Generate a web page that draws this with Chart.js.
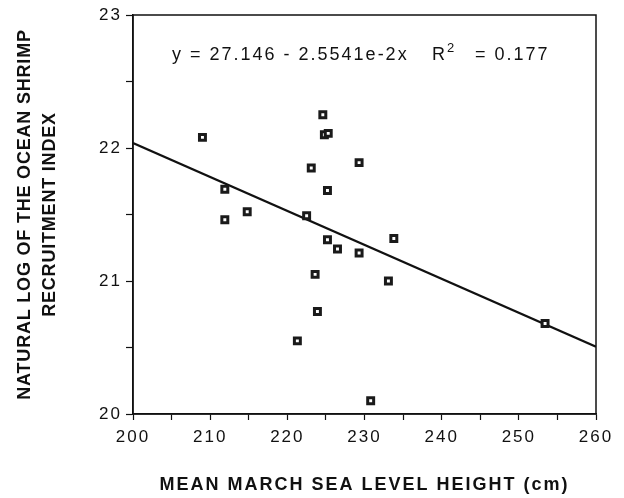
<!DOCTYPE html>
<html>
<head>
<meta charset="utf-8">
<script src="https://cdn.jsdelivr.net/npm/chart.js@4/dist/chart.umd.min.js"></script>
<style>
  body { margin: 0; background: #fff; }
</style>
</head>
<body>
<canvas id="myChart" width="624" height="498"></canvas>
<script>
let seaLevel = [209.0, 211.9, 211.9, 214.8, 221.3, 222.5, 223.1, 223.6, 223.9, 224.6, 224.8, 225.3, 225.2, 225.2, 226.5, 229.3, 229.3, 230.8, 233.1, 233.8, 253.4];
let recruitment = [22.08, 21.69, 21.46, 21.52, 20.55, 21.49, 21.85, 21.05, 20.77, 22.25, 22.10, 22.11, 21.68, 21.31, 21.24, 21.89, 21.21, 20.10, 21.00, 21.32, 20.68];
let fitIntercept = 27.146;
let fitSlope = -2.5541e-2;
let fitRange = [200, 260];
let xTicks = [200, 210, 220, 230, 240, 250, 260];
let yTicks = [20, 21, 22, 23];

let font = "'Liberation Sans', Arial, Helvetica, sans-serif";
let ink = '#111';

let points = seaLevel.map((x, i) => ({ x: x, y: recruitment[i] }));
let fitLine = fitRange.map(x => ({ x: x, y: fitIntercept + fitSlope * x }));

// the scanned plot has wide letter spacing, a bit tighter on the y title
const spacing = {
  id: 'spacing',
  beforeUpdate(chart) { chart.ctx.letterSpacing = '2px'; },
  beforeDraw(chart) { chart.ctx.letterSpacing = '2px'; },
  afterLayout(chart) {
    let s = chart.scales.y;
    if (s._tightTitle) return;
    let orig = s.drawTitle.bind(s);
    s.drawTitle = function () {
      let c = this.ctx;
      let prev = c.letterSpacing;
      c.letterSpacing = '0.8px';
      orig();
      c.letterSpacing = prev;
    };
    s._tightTitle = true;
  }
};

// closed frame plus the regression equation inside the plot
const frame = {
  id: 'frame',
  afterDraw(chart) {
    let a = chart.chartArea;
    let c = chart.ctx;
    c.save();
    c.strokeStyle = ink;
    c.lineWidth = 1.5;
    c.strokeRect(a.left, a.top, a.right - a.left, a.bottom - a.top);
    c.fillStyle = ink;
    c.letterSpacing = '2px';
    c.textBaseline = 'alphabetic';
    c.font = '18px ' + font;
    let y = a.top + 45;
    c.fillText('y = 27.146 - 2.5541e-2x', a.left + 39, y);
    c.fillText('R', a.left + 299, y);
    c.fillText('= 0.177', a.left + 342, y);
    c.font = '13px ' + font;
    c.fillText('2', a.left + 314, y - 8);
    c.restore();
  }
};

let ctx = document.getElementById('myChart').getContext('2d');

let myChart = new Chart(ctx, {
  type: 'scatter',
  data: {
    datasets: [{
      data: points,
      pointStyle: 'rect',
      pointRadius: 4.2,
      pointBorderWidth: 3,
      pointBackgroundColor: '#fff',
      pointBorderColor: '#1a1a1a',
      order: 0
    }, {
      type: 'line',
      data: fitLine,
      borderColor: ink,
      borderWidth: 2.2,
      pointRadius: 0,
      fill: false,
      order: 1
    }]
  },
  options: {
    responsive: false,
    animation: false,
    layout: {
      padding: { top: 15, right: 28, left: 0, bottom: 0 }
    },
    plugins: {
      legend: { display: false },
      tooltip: { enabled: false }
    },
    scales: {
      x: {
        type: 'linear',
        min: 200,
        max: 260,
        afterFit: (scale) => { scale.height = 84; },
        border: { display: true, color: ink, width: 1.5 },
        grid: { drawOnChartArea: false, drawTicks: true, tickLength: 6, color: ink, tickWidth: 1.2 },
        ticks: {
          stepSize: 5,
          autoSkip: false,
          maxRotation: 0,
          padding: 7,
          color: ink,
          font: { family: font, size: 17 },
          callback: (value) => xTicks.includes(value) ? value : ''
        },
        title: {
          display: true,
          text: 'MEAN MARCH SEA LEVEL HEIGHT (cm)',
          color: ink,
          font: { family: font, size: 18, weight: 'bold' },
          padding: { top: 0, bottom: 2 }
        }
      },
      y: {
        type: 'linear',
        min: 20,
        max: 23,
        afterFit: (scale) => { scale.width = 133; },
        border: { display: true, color: ink, width: 1.5 },
        grid: { drawOnChartArea: false, drawTicks: true, tickLength: 7, color: ink, tickWidth: 1.2 },
        ticks: {
          stepSize: 0.5,
          autoSkip: false,
          padding: 4,
          color: ink,
          font: { family: font, size: 17 },
          callback: (value) => yTicks.includes(value) ? value : ''
        },
        title: {
          display: true,
          text: ['NATURAL LOG OF THE OCEAN SHRIMP', 'RECRUITMENT INDEX'],
          color: ink,
          font: { family: font, size: 18, weight: 'bold', lineHeight: 1.4 },
          padding: { top: 12, bottom: 0 }
        }
      }
    }
  },
  plugins: [spacing, frame]
});
</script>
</body>
</html>
